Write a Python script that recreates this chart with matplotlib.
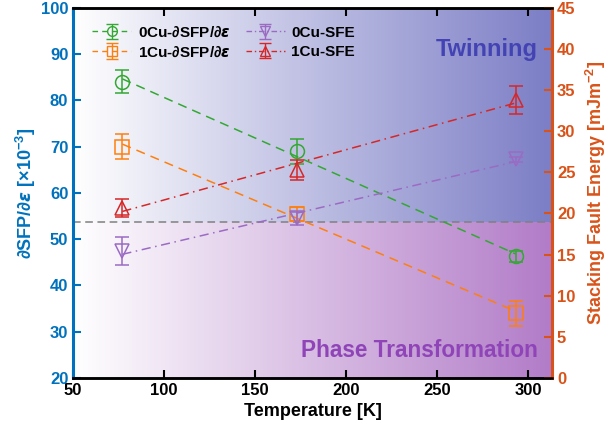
import numpy as np
import matplotlib.pyplot as plt

plt.rcParams['font.family'] = ['Liberation Sans', 'DejaVu Sans']
plt.rcParams['font.weight'] = 'bold'
plt.rcParams['mathtext.fontset'] = 'custom'
plt.rcParams['mathtext.rm'] = 'Liberation Sans:bold'
plt.rcParams['mathtext.bf'] = 'Liberation Sans:bold'
plt.rcParams['mathtext.it'] = 'DejaVu Sans:italic'
plt.rcParams['mathtext.default'] = 'rm'

# temperatures [K]
temps = np.array([77, 173, 293])

# dSFP/de (x 1e-3), left axis
sfp_0cu = np.array([84.0, 69.0, 46.3])
sfp_0cu_err = np.array([2.5, 2.7, 1.2])
sfp_1cu = np.array([70.0, 55.5, 34.0])
sfp_1cu_err = np.array([2.7, 1.5, 2.7])

# stacking fault energy [mJ/m^2], right axis
sfe_0cu = np.array([15.4, 19.4, 26.6])
sfe_0cu_err = np.array([1.7, 0.8, 0.3])
sfe_1cu = np.array([20.7, 25.3, 33.8])
sfe_1cu_err = np.array([1.1, 1.2, 1.75])

threshold = 53.7  # boundary between twinning and phase transformation

c_green = '#33a832'
c_orange = '#ff7f0e'
c_purple = '#9b6bc4'
c_red = '#d62728'
c_left = '#0072bd'
c_right = '#d95319'

xlim = (50, 313)
ylim_l = (20, 100)
ylim_r = (0, 45)

fig = plt.figure(figsize=(6.1, 4.37), dpi=100)
ax = fig.add_axes([0.12, 0.135, 0.785, 0.847])
ax2 = ax.twinx()

# horizontal white -> colour gradients above and below the threshold
def gradient(rgb, n=256):
    t = np.linspace(0, 1, n)
    img = np.ones((1, n, 3))
    for k in range(3):
        img[0, :, k] = 1 - t * (1 - rgb[k])
    return img

top_rgb = np.array([124, 126, 198]) / 255
bot_rgb = np.array([178, 124, 200]) / 255
ax.imshow(gradient(top_rgb), extent=[xlim[0], xlim[1], threshold, ylim_l[1]],
          aspect='auto', zorder=0, interpolation='bilinear')
ax.imshow(gradient(bot_rgb), extent=[xlim[0], xlim[1], ylim_l[0], threshold],
          aspect='auto', zorder=0, interpolation='bilinear')
ax.axhline(threshold, color='#808080', ls=(0, (5, 3)), lw=1.1, zorder=1)

xfit = np.array([temps[0], temps[-1]])

def series(axis, x, y, err, color, marker, ls):
    fit = np.polyfit(x, y, 1)
    axis.plot(xfit, np.polyval(fit, xfit), color=color, ls=ls, lw=1.1, zorder=2)
    axis.errorbar(x, y, yerr=err, fmt=marker, color=color, mfc='none', ms=10,
                  mew=1.1, elinewidth=1.1, capsize=5, capthick=1.1, zorder=3)

series(ax, temps, sfp_0cu, sfp_0cu_err, c_green, 'o', (0, (6, 4)))
series(ax, temps, sfp_1cu, sfp_1cu_err, c_orange, 's', (0, (6, 4)))
series(ax2, temps, sfe_0cu, sfe_0cu_err, c_purple, 'v', (0, (6, 3, 1, 3)))
series(ax2, temps, sfe_1cu, sfe_1cu_err, c_red, '^', (0, (6, 3, 1, 3)))

ax.set_xlim(*xlim)
ax.set_ylim(*ylim_l)
ax2.set_ylim(*ylim_r)
ax.set_xticks([50, 100, 150, 200, 250, 300])
ax.set_yticks(np.arange(20, 101, 10))
ax2.set_yticks(np.arange(0, 46, 5))

ax.tick_params(axis='x', direction='in', length=6, width=1.5, labelsize=12,
               top=True, colors='black')
ax.tick_params(axis='y', direction='in', length=6, width=1.5, labelsize=12,
               colors=c_left)
ax2.tick_params(axis='y', direction='in', length=6, width=1.5, labelsize=12,
                colors=c_right)
for axis in (ax, ax2):
    axis.spines['top'].set_linewidth(1.8)
    axis.spines['bottom'].set_linewidth(1.8)
ax.spines['left'].set_color(c_left)
ax.spines['left'].set_linewidth(2.2)
ax2.spines['left'].set_visible(False)
ax2.spines['right'].set_color(c_right)
ax2.spines['right'].set_linewidth(2.2)
ax.spines['right'].set_visible(False)

ax.set_xlabel('Temperature [K]', fontsize=13, fontweight='bold', labelpad=4)
ax.set_ylabel(r'$\mathit{\partial}$SFP/$\mathit{\partial\epsilon}$ [$\times$10$^{-3}$]',
              fontsize=13, fontweight='bold', color=c_left, labelpad=2)
ax2.set_ylabel(r'Stacking Fault Energy [mJm$^{-2}$]', fontsize=13,
               fontweight='bold', color=c_right, labelpad=6)

ax.text(305, 91.0, 'Twinning', color='#4343b4', fontsize=17,
        fontweight='bold', ha='right', va='center', zorder=4)
ax.text(305, 26, 'Phase Transformation', color='#8f45b8', fontsize=16.3,
        fontweight='bold', ha='right', va='center', zorder=4)

labels = [r'0Cu-$\mathit{\partial}$SFP/$\mathit{\partial\epsilon}$',
          r'1Cu-$\mathit{\partial}$SFP/$\mathit{\partial\epsilon}$',
          '0Cu-SFE', '1Cu-SFE']
styles = [(c_green, 'o', (0, (4, 3))), (c_orange, 's', (0, (4, 3))),
          (c_purple, 'v', (0, (4, 2, 1, 2))), (c_red, '^', (0, (4, 2, 1, 2)))]
handles = []
for color, marker, ls in styles:
    handles.append(ax2.errorbar([np.nan], [np.nan], yerr=[1], fmt=marker,
                                color=color, mfc='none', ms=7, capsize=4,
                                ls=ls, lw=1.0))
ax2.legend(handles, labels, loc='upper left', ncol=2, frameon=False,
           prop={'weight': 'bold', 'size': 11},
           bbox_to_anchor=(0.01, 0.99), columnspacing=1.0,
           handlelength=2.6, handletextpad=0.4, labelspacing=0.35)

fig.savefig('out.png', dpi=100)
